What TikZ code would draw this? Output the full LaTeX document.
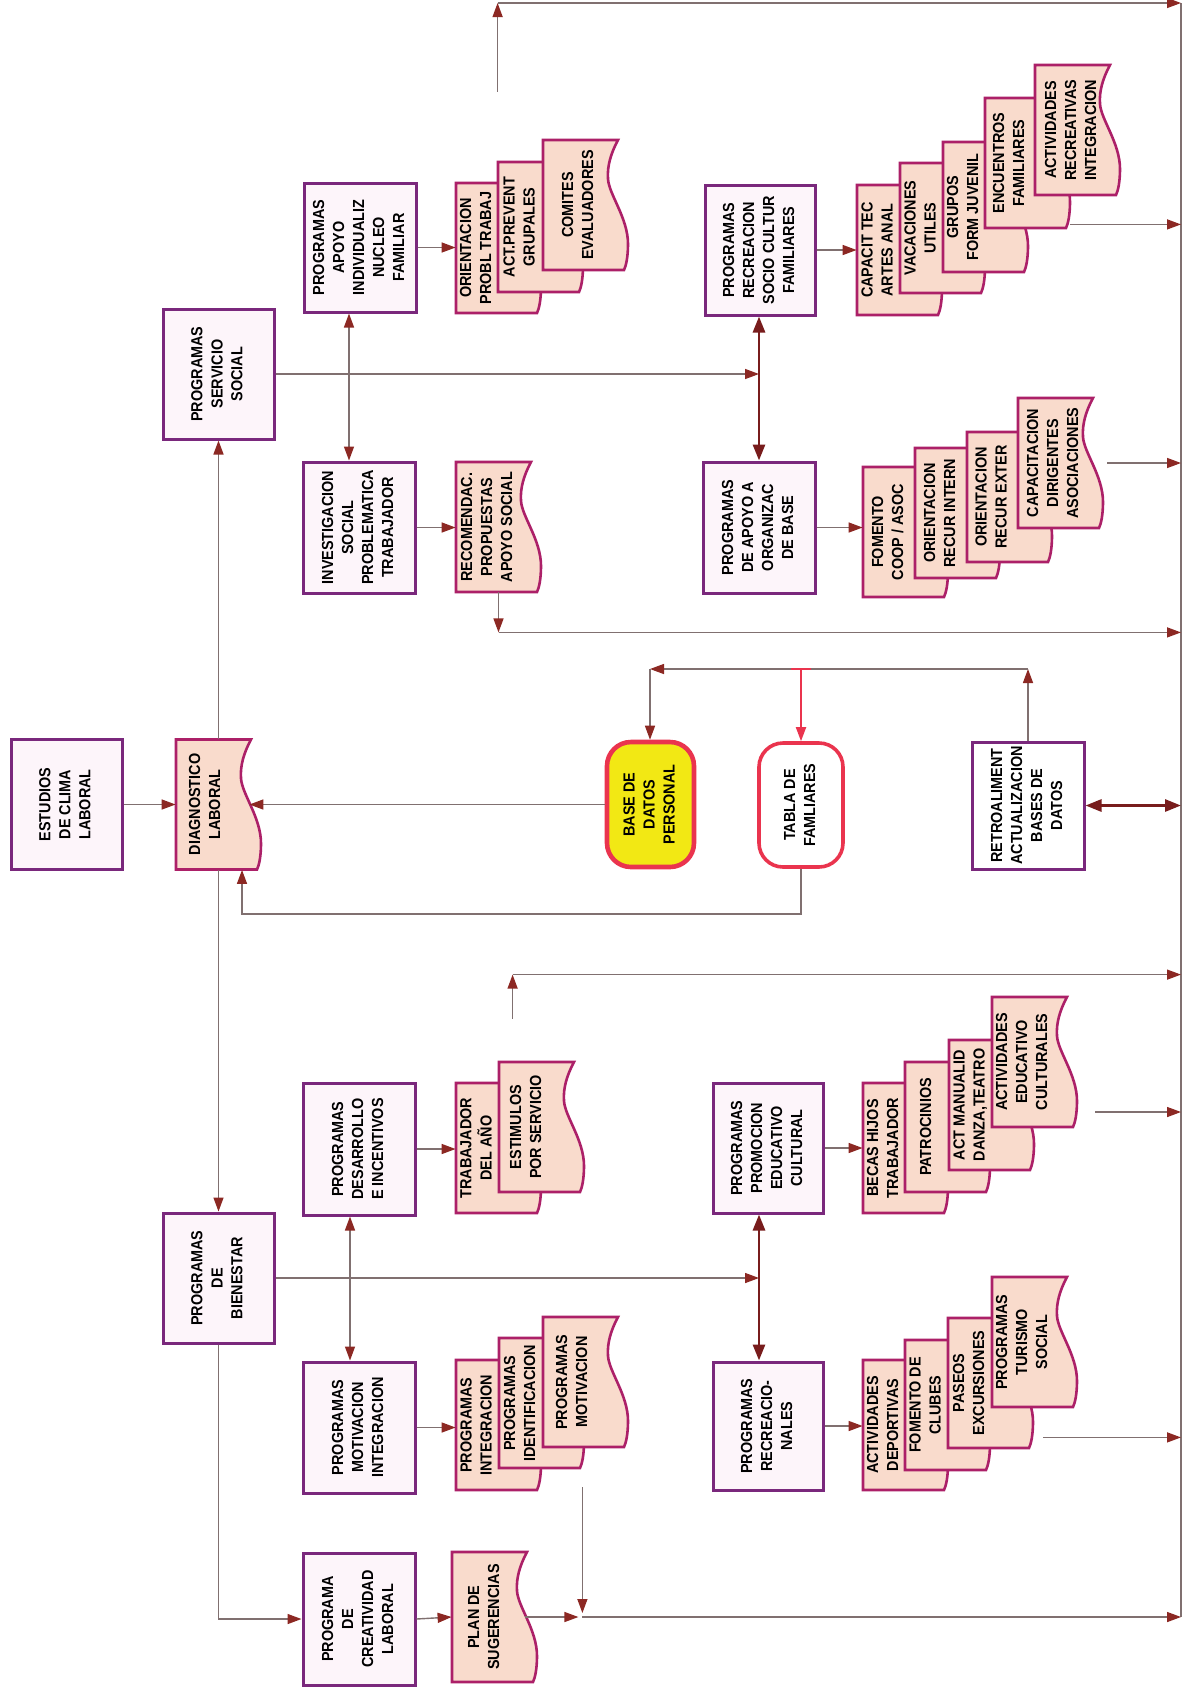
\documentclass[tikz,border=0pt]{standalone}
\usepackage{fontspec}
\setmainfont{Liberation Sans}[FakeStretch=0.9]
\usepackage{graphicx}
\usetikzlibrary{arrows.meta,calc}
\definecolor{boxc}{RGB}{122,40,124}
\definecolor{boxfill}{RGB}{253,245,250}
\definecolor{docc}{RGB}{172,32,104}
\definecolor{docfill}{RGB}{249,219,204}
\definecolor{linec}{RGB}{128,112,112}
\definecolor{arrc}{RGB}{140,40,35}
\definecolor{darkred}{RGB}{120,28,28}
\definecolor{redb}{RGB}{234,52,78}
\definecolor{yel}{RGB}{242,232,20}
\newcommand\vt[1]{\rotatebox{90}{\begin{tabular}{@{}c@{}}#1\end{tabular}}}
\tikzset{
  box/.style={draw=boxc, line width=1.5pt, fill=boxfill, inner sep=0pt},
  docbb/.style={inner sep=0pt, minimum width=42.5pt, minimum height=65pt},
  docst/.style={draw=docc, line width=1.3pt, fill=docfill},
  txt/.style={inner sep=0pt},
  conn/.style={draw=linec, line width=0.7pt, -{Triangle[color=arrc,length=7pt,width=5pt]}},
  plain/.style={draw=linec, line width=0.7pt},
  dbl/.style={draw=linec, line width=0.7pt, {Triangle[color=arrc,length=7pt,width=5pt]}-{Triangle[color=arrc,length=7pt,width=5pt]}},
  thk/.style={draw=darkred, line width=1.4pt, {Triangle[length=8pt,width=6pt]}-{Triangle[length=8pt,width=6pt]}},
}
\newcommand\mkdoc[5]{%
  \path[docst] (#2,#3) -- (#2+75,#3) .. controls (#2+68,#3+13) and (#2+64,#3+26) .. (#2+65,#3+39)
    .. controls (#2+66,#3+54.6) and (#2+85,#3+78) .. (#2+85,#3+104)
    .. controls (#2+85,#3+117) and (#2+83,#3+126) .. (#2+81,#3+130) -- (#2,#3+130) -- cycle;
  \node[docbb] (#1) at (#2+42.5,#3+65) {};
  \node[txt] at (#2+#4,#3+65) {\vt{#5}};
}
\begin{document}
\begin{tikzpicture}[x=0.5pt,y=-0.5pt,font=\fontsize{8}{10}\selectfont\bfseries]
\useasboundingbox (0,0) rectangle (1190,1699);
\fill[white] (0,0) rectangle (1190,1699);

% boxes
\node[box, minimum width=55.5pt, minimum height=65pt] (clima) at (66.5,804.5) {\vt{ESTUDIOS\\DE CLIMA\\LABORAL}};
\node[box, minimum width=55.5pt, minimum height=65pt] (servicio) at (218.5,374) {\vt{PROGRAMAS\\SERVICIO\\SOCIAL}};
\node[box, minimum width=55.5pt, minimum height=65pt] (bienestar) at (218.5,1278) {\vt{PROGRAMAS\\DE\\BIENESTAR}};
\node[box, minimum width=56pt, minimum height=64.5pt] (apoyo) at (360,247.5) {\vt{PROGRAMAS\\APOYO\\INDIVIDUALIZ\\NUCLEO\\FAMILIAR}};
\node[box, minimum width=56pt, minimum height=65.5pt] (invest) at (359,527.5) {\vt{INVESTIGACION\\SOCIAL\\PROBLEMATICA\\TRABAJADOR}};
\node[box, minimum width=56pt, minimum height=66pt] (desarrollo) at (359,1149) {\vt{PROGRAMAS\\DESARROLLO\\E INCENTIVOS}};
\node[box, minimum width=56pt, minimum height=65.5pt] (motivacion) at (359,1427.5) {\vt{PROGRAMAS\\MOTIVACION\\INTEGRACION}};
\node[box, minimum width=56pt, minimum height=66pt] (creatividad) at (359,1619) {\vt{PROGRAMA\\DE\\CREATIVIDAD\\LABORAL}};
\node[box, minimum width=55pt, minimum height=65pt] (recsocio) at (760,250) {\vt{PROGRAMAS\\RECREACION\\SOCIO CULTUR\\FAMILIARES}};
\node[box, minimum width=56pt, minimum height=65.5pt] (orgbase) at (759,527.5) {\vt{PROGRAMAS\\DE APOYO A\\ORGANIZAC\\DE BASE}};
\node[box, minimum width=55pt, minimum height=65pt] (promocion) at (768,1148) {\vt{PROGRAMAS\\PROMOCION\\EDUCATIVO\\CULTURAL}};
\node[box, minimum width=55pt, minimum height=64pt] (recreacionales) at (768,1426) {\vt{PROGRAMAS\\RECREACIO-\\NALES}};
\node[draw=redb, line width=2.3pt, fill=yel, rounded corners=12pt, inner sep=0pt, minimum width=43.5pt, minimum height=62.5pt] (base) at (650.5,804.5) {\vt{BASE DE\\DATOS\\PERSONAL}};
\node[draw=redb, line width=1.8pt, fill=white, rounded corners=12pt, inner sep=0pt, minimum width=42pt, minimum height=62pt] (tabla) at (801,805) {\vt{TABLA DE\\FAMLIARES}};
\node[box, fill=white, minimum width=56pt, minimum height=63.5pt] (retro) at (1028,805.5) {\vt{RETROALIMENT\\ACTUALIZACION\\BASES DE\\DATOS}};

% documents
\mkdoc{diag}{176}{739.5}{30}{DIAGNOSTICO\\LABORAL}
\mkdoc{ao1}{456}{183}{21}{ORIENTACION\\PROBL TRABAJ}
\mkdoc{ao2}{498}{162}{22.5}{ACT.PREVENT\\GRUPALES}
\mkdoc{ao3}{543}{140}{36}{COMITES\\EVALUADORES}
\mkdoc{recom}{456}{462}{32}{RECOMENDAC.\\PROPUESTAS\\APOYO SOCIAL}
\mkdoc{rs1}{857}{185}{21.5}{CAPACIT TEC\\ARTES ANAL}
\mkdoc{rs2}{900}{163}{21.5}{VACACIONES\\UTILES}
\mkdoc{rs3}{943}{142}{21}{GRUPOS\\FORM JUVENIL}
\mkdoc{rs4}{985}{98}{25}{ENCUENTROS\\FAMILIARES}
\mkdoc{rs5}{1035}{65}{37}{ACTIVIDADES\\RECREATIVAS\\INTEGRACION}
\mkdoc{ob1}{863}{467}{26}{FOMENTO\\COOP / ASOC}
\mkdoc{ob2}{915}{448}{26}{ORIENTACION\\RECUR INTERN}
\mkdoc{ob3}{967}{432}{25.5}{ORIENTACION\\RECUR EXTER}
\mkdoc{ob4}{1018}{398}{36}{CAPACITACION\\DIRIGENTES\\ASOCIACIONES}
\mkdoc{d1}{456}{1083}{21.5}{TRABAJADOR\\DEL AÑO}
\mkdoc{d2}{499}{1062}{28}{ESTIMULOS\\POR SERVICIO}
\mkdoc{mo1}{456}{1360}{21.5}{PROGRAMAS\\INTEGRACION}
\mkdoc{mo2}{499}{1338}{22}{PROGRAMAS\\IDENTIFICACION}
\mkdoc{mo3}{543}{1317}{30}{PROGRAMAS\\MOTIVACION}
\mkdoc{plan}{452}{1552}{33}{PLAN DE\\SUGERENCIAS}
\mkdoc{pc1}{863}{1083}{21}{BECAS HIJOS\\TRABAJADOR}
\mkdoc{pc2}{905}{1062}{22}{PATROCINIOS}
\mkdoc{pc3}{949}{1040}{21.5}{ACT MANUALID\\DANZA,TEATRO}
\mkdoc{pc4}{992}{997}{31}{ACTIVIDADES\\EDUCATIVO\\CULTURALES}
\mkdoc{rc1}{863}{1360}{21}{ACTIVIDADES\\DEPORTIVAS}
\mkdoc{rc2}{905}{1340}{21.5}{FOMENTO DE\\CLUBES}
\mkdoc{rc3}{948}{1318}{22}{PASEOS\\EXCURSIONES}
\mkdoc{rc4}{992}{1277}{31}{PROGRAMAS\\TURISMO\\SOCIAL}

% named points
\coordinate (bustop) at (1181,3);
\coordinate (busbot) at (1181,1617);
\coordinate (lp2) at (650,669);
\coordinate (pcx) at ([xshift=-4.5pt]promocion.south);

% right bus
\draw[plain] (bustop) -- (busbot);

% main spine
\draw[conn] (clima.east) -- (diag.west);
\draw[conn] (diag.north) -- (servicio.south);
\draw[conn] (diag.south) -- (bienestar.north);
\draw[conn] (base.west) -- ([xshift=-6pt]diag.east);
\draw[conn] (tabla.south) -- ([yshift=-22.5pt]tabla.south) -| ([xshift=11.75pt]diag.south);

% upper half
\draw[conn] (servicio.east) -- (servicio.east -| orgbase.north);
\draw[dbl] ([xshift=-5.5pt]apoyo.south) -- ([xshift=-5pt]invest.north);
\draw[thk] ([xshift=-0.5pt]recsocio.south) -- (orgbase.north);
\draw[conn] (apoyo.east) -- (apoyo.east -| ao1.west);
\draw[conn] (invest.east) -- (invest.east -| recom.west);
\draw[conn] (recsocio.east) -- (recsocio.east -| rs1.west);
\draw[conn] (orgbase.east) -- (orgbase.east -| ob1.west);

\coordinate (t1) at ([yshift=35pt]ao2.north west);
\draw[conn] (t1) -- (t1 |- bustop);
\draw[conn] (t1 |- bustop) -- (bustop);
\coordinate (s1) at ([yshift=2pt]rs4.south east);
\draw[conn] (s1) -- (s1 -| bustop);
\coordinate (s2) at ([xshift=2pt]ob4.east);
\draw[conn] (s2) -- (s2 -| bustop);
\coordinate (k1) at ([yshift=-20pt]recom.south);
\draw[conn] (recom.south) -- (k1);
\draw[conn] (k1) -- (k1 -| bustop);

% middle loop
\draw[conn] (retro.north) -- (retro.north |- lp2);
\draw[conn] (retro.north |- lp2) -- (lp2);
\draw[conn] (lp2) -- (lp2 |- base.north);
\coordinate (rt) at (tabla.north |- lp2);
\draw[redb, line width=0.9pt, -{Triangle[length=7pt,width=5pt]}] (rt) -- (tabla.north);
\draw[redb, line width=1.3pt] ([xshift=-5pt]rt) -- ([xshift=5pt]rt);
\draw[thk] (retro.east) -- (retro.east -| bustop);

% lower half
\draw[conn] (bienestar.east) -- (bienestar.east -| pcx);
\draw[dbl] ([xshift=-4.5pt]desarrollo.south) -- ([xshift=-4.5pt]motivacion.north);
\draw[thk] (pcx) -- ([xshift=-4.5pt]recreacionales.north);
\draw[conn] (desarrollo.east) -- (desarrollo.east -| d1.west);
\draw[conn] (motivacion.east) -- (motivacion.east -| mo1.west);
\draw[conn] (promocion.east) -- (promocion.east -| pc1.west);
\draw[conn] (recreacionales.east) -- (recreacionales.east -| rc1.west);
\draw[conn] (bienestar.south) |- (creatividad.west);
\draw[conn] (creatividad.east) -- (plan.west);

\coordinate (t2) at ([xshift=7pt,yshift=21.5pt]d2.north west);
\coordinate (t2b) at ([yshift=22pt]t2);
\draw[conn] (t2) -- (t2b);
\draw[conn] (t2b) -- (t2b -| bustop);
\coordinate (s3) at ([xshift=9pt,yshift=-25pt]pc4.east);
\draw[conn] (s3) -- (s3 -| bustop);
\coordinate (s4) at ([xshift=5pt,yshift=5.5pt]rc3.south east);
\draw[conn] (s4) -- (s4 -| bustop);
\coordinate (j3) at ([xshift=22.5pt]plan.east);
\coordinate (m0) at ([xshift=-1pt,yshift=-9.5pt]mo2.south east);
\draw[conn, shorten >=2pt] ([xshift=-6pt]plan.east) -- (j3);
\draw[conn, shorten >=2pt] (m0) -- (m0 |- j3);
\draw[conn] (j3) -- (busbot);
\end{tikzpicture}
\end{document}
